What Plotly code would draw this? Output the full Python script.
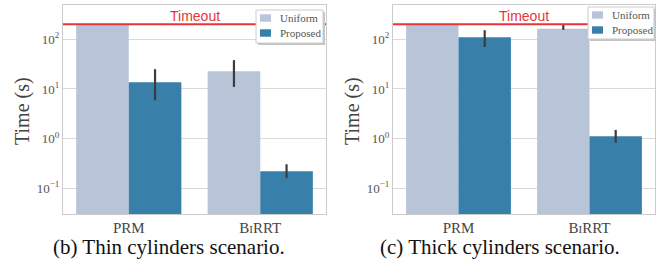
import plotly.graph_objects as go

categories = ["PRM", "BiRRT"]
tick_labels = ["PRM", "B<span style='font-size:11px'>I</span>RRT"]
series_names = ["Uniform", "Proposed"]
timeout = 200

# Thin cylinders scenario
thin_uniform = [200, 22.7]
thin_uniform_hi = [204, 38]
thin_uniform_lo = [196, 11]
thin_proposed = [13.6, 0.22]
thin_proposed_hi = [25, 0.305]
thin_proposed_lo = [5.9, 0.16]

# Thick cylinders scenario
thick_uniform = [200, 162]
thick_uniform_hi = [204, 198]
thick_uniform_lo = [196, 155]
thick_proposed = [110, 1.12]
thick_proposed_hi = [152, 1.5]
thick_proposed_lo = [70, 0.83]

captions = ["(b) Thin cylinders scenario.", "(c) Thick cylinders scenario."]

colors = {"Uniform": "#b8c5d8", "Proposed": "#3880aa"}
err_color = "#3c3c3c"
serif = "Liberation Serif"
sans = "Liberation Sans"

W, H = 665, 260


def X(px):
    return px / W


def Y(py):
    return 1 - py / H


fig = go.Figure()

panels = [
    (thin_uniform, thin_uniform_hi, thin_uniform_lo, thin_proposed, thin_proposed_hi, thin_proposed_lo),
    (thick_uniform, thick_uniform_hi, thick_uniform_lo, thick_proposed, thick_proposed_hi, thick_proposed_lo),
]

for i, (u, uh, ul, p, ph, pl) in enumerate(panels):
    xa = "x" if i == 0 else "x2"
    ya = "y" if i == 0 else "y2"
    for name, vals, hi, lo in [("Uniform", u, uh, ul), ("Proposed", p, ph, pl)]:
        fig.add_trace(go.Bar(
            x=categories, y=vals, name=name, showlegend=False,
            marker=dict(color=colors[name], line=dict(width=0)),
            error_y=dict(type="data", symmetric=False,
                         array=[h - v for h, v in zip(hi, vals)],
                         arrayminus=[v - l for v, l in zip(vals, lo)],
                         color=err_color, thickness=2.2, width=0),
            xaxis=xa, yaxis=ya,
        ))

yrange = [-1.517, 2.69]
ydom = [Y(214), Y(5)]
xdoms = [[X(63), X(326)], [X(393), X(655)]]

common_y = dict(type="log", range=yrange, domain=ydom,
                showgrid=True, gridcolor="#d9d9d9", gridwidth=1,
                showline=True, linecolor="#cccccc", linewidth=1, mirror=True,
                ticks="",
                tickvals=[0.1, 1, 10, 100],
                ticktext=["10<sup>−1</sup>", "10<sup>0</sup>", "10<sup>1</sup>", "10<sup>2</sup>"],
                tickfont=dict(family=serif, size=13, color="#555555"),
                zeroline=False)
common_x = dict(type="category", range=[-0.5, 1.5],
                showgrid=False, showline=True, linecolor="#cccccc", linewidth=1, mirror=True,
                tickvals=categories, ticktext=tick_labels,
                tickfont=dict(family=serif, size=15, color="#444444"),
                ticks="", zeroline=False)

fig.update_layout(
    xaxis=dict(common_x, domain=xdoms[0], anchor="y"),
    yaxis=dict(common_y, anchor="x"),
    xaxis2=dict(common_x, domain=xdoms[1], anchor="y2"),
    yaxis2=dict(common_y, anchor="x2"),
)

ytitle_x = [22, 352]
timeout_x = [195.5, 523.5]
caption_x = [169, 500]
legend_boxes = [(256, 10, 323, 43), (588, 7, 654, 39)]

for i in range(2):
    xa = "x" if i == 0 else "x2"
    ya = "y" if i == 0 else "y2"
    fig.add_shape(type="line", xref=f"{xa} domain", yref=ya, x0=0, x1=1, y0=timeout, y1=timeout,
                  line=dict(color="#e8353b", width=2), layer="above")
    fig.add_annotation(xref="paper", yref="paper", x=X(timeout_x[i]), y=Y(16), text="Timeout",
                       showarrow=False, xanchor="center", yanchor="middle",
                       font=dict(family=sans, size=14, color="#e8353b"))
    fig.add_annotation(xref="paper", yref="paper", x=X(ytitle_x[i]), y=Y(111), text="Time (s)",
                       showarrow=False, xanchor="center", yanchor="middle", textangle=-90,
                       font=dict(family=serif, size=20, color="#444444"))
    fig.add_annotation(xref="paper", yref="paper", x=X(caption_x[i]), y=Y(247), text=captions[i],
                       showarrow=False, xanchor="center", yanchor="middle",
                       font=dict(family=serif, size=21, color="#111111"))
    # legend
    x0, y0, x1, y1 = legend_boxes[i]
    fig.add_shape(type="rect", xref="paper", yref="paper",
                  x0=X(x0 + 2), x1=X(x1 + 2), y0=Y(y0 + 2), y1=Y(y1 + 2),
                  fillcolor="#c4c4c4", line=dict(width=0), layer="above")
    fig.add_shape(type="rect", xref="paper", yref="paper",
                  x0=X(x0), x1=X(x1), y0=Y(y0), y1=Y(y1),
                  fillcolor="white", line=dict(color="#cccccc", width=1), layer="above")
    for k, name in enumerate(series_names):
        cy = y0 + 8 + 15 * k
        fig.add_shape(type="rect", xref="paper", yref="paper",
                      x0=X(x0 + 4), x1=X(x0 + 15), y0=Y(cy - 3.7), y1=Y(cy + 3.7),
                      fillcolor=colors[name], line=dict(width=0), layer="above")
        fig.add_annotation(xref="paper", yref="paper", x=X(x0 + 22), y=Y(cy), text=name,
                           showarrow=False, xanchor="left", yanchor="middle",
                           font=dict(family=serif, size=11, color="#555555"))

fig.update_layout(
    width=W, height=H, autosize=False,
    margin=dict(l=0, r=0, t=0, b=0),
    paper_bgcolor="white", plot_bgcolor="white",
    barmode="group", bargap=0.2, bargroupgap=0,
    showlegend=False,
)

fig.write_html("out.html", config={"displayModeBar": False},
               post_script="document.body.style.margin='0';")
